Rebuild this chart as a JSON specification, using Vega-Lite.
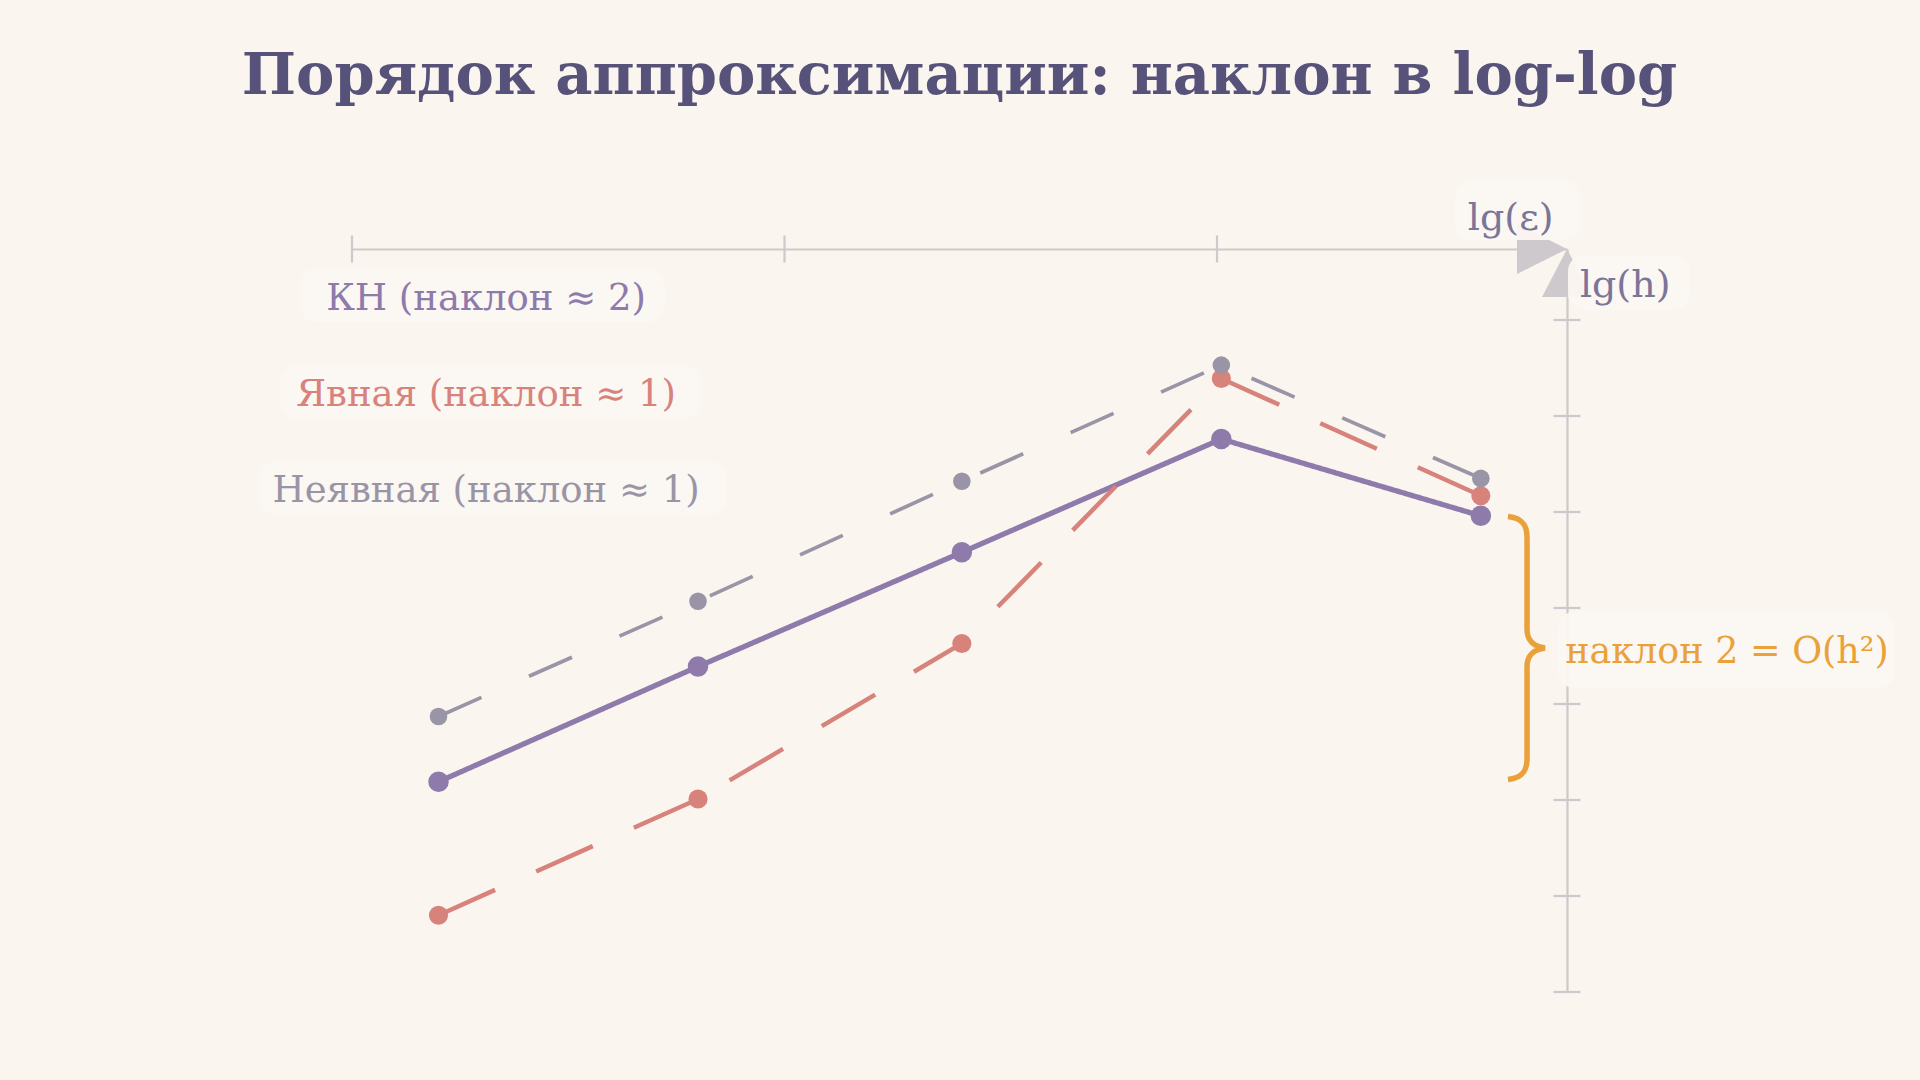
{
  "$schema": "https://vega.github.io/schema/vega-lite/v6.json",
  "description": "Порядок аппроксимации: наклон ошибок в двойном логарифмическом масштабе.",
  "width": 1215,
  "height": 743,
  "autosize": "none",
  "padding": {"left": 352, "top": 249, "right": 353, "bottom": 88},
  "background": "#faf5ee",
  "title": {
    "text": "Порядок аппроксимации: наклон в log-log",
    "font": "DejaVu Serif",
    "fontSize": 57.5,
    "fontWeight": "bold",
    "color": "#57527a",
    "anchor": "middle",
    "offset": 74
  },
  "datasets": {
    "series": [
      {"series": "КН", "x": -2.8, "y": -5.81},
      {"series": "КН", "x": -2.2, "y": -4.61},
      {"series": "КН", "x": -1.59, "y": -3.42},
      {"series": "КН", "x": -0.99, "y": -2.24},
      {"series": "КН", "x": -0.39, "y": -3.04},
      {"series": "Явная", "x": -2.8, "y": -7.2},
      {"series": "Явная", "x": -2.2, "y": -5.99},
      {"series": "Явная", "x": -1.59, "y": -4.37},
      {"series": "Явная", "x": -0.99, "y": -1.61},
      {"series": "Явная", "x": -0.39, "y": -2.83},
      {"series": "Неявная", "x": -2.8, "y": -5.13},
      {"series": "Неявная", "x": -2.2, "y": -3.93},
      {"series": "Неявная", "x": -1.59, "y": -2.68},
      {"series": "Неявная", "x": -0.99, "y": -1.47},
      {"series": "Неявная", "x": -0.39, "y": -2.65}
    ],
    "legend": [
      {"series": "КН", "label": "КН (наклон ≈ 2)", "x": -2.69, "y": -0.9},
      {"series": "Явная", "label": "Явная (наклон ≈ 1)", "x": -2.69, "y": -1.9},
      {"series": "Неявная", "label": "Неявная (наклон ≈ 1)", "x": -2.69, "y": -2.9}
    ],
    "axislabels": [
      {"series": "Оси", "label": "lg(ε)", "x": -0.42, "y": -0.0625},
      {"series": "Оси", "label": "lg(h)", "x": -0.161, "y": -0.76}
    ],
    "note": [
      {"series": "Наклон", "label": "наклон 2 = O(h²)", "x": -0.195, "y": -4.573}
    ],
    "xticks": [{"x": -3}, {"x": -2}, {"x": -1}],
    "yticks": [
      {"y": -8}, {"y": -7}, {"y": -6}, {"y": -5},
      {"y": -4}, {"y": -3}, {"y": -2}, {"y": -1}
    ],
    "halos": [
      {"x": -0.4497, "x2": -0.1607, "y": 0.4583, "y2": -0.1667},
      {"x": -0.1884, "x2": 0.0937, "y": -0.323, "y2": -0.896},
      {"x": -0.2116, "x2": 0.5676, "y": -4.0417, "y2": -4.8333},
      {"x": -3.1202, "x2": -2.2763, "y": -0.4583, "y2": -1.0208},
      {"x": -3.1665, "x2": -2.1954, "y": -1.4688, "y2": -2.0313},
      {"x": -3.2127, "x2": -2.1329, "y": -2.4688, "y2": -3.0313}
    ]
  },
  "layer": [
    {
      "data": {"name": "series"},
      "mark": {"type": "line", "strokeCap": "butt"},
      "encoding": {
        "x": {
          "field": "x",
          "type": "quantitative",
          "scale": {"domain": [-3, -0.1908], "nice": false, "zero": false},
          "axis": {
            "orient": "top",
            "title": null,
            "labels": false,
            "ticks": false,
            "grid": false,
            "domainColor": "#cdc9cc",
            "domainWidth": 2.2
          }
        },
        "y": {
          "field": "y",
          "type": "quantitative",
          "scale": {"domain": [-8, -0.2604], "nice": false, "zero": false},
          "axis": {
            "orient": "right",
            "title": null,
            "labels": false,
            "ticks": false,
            "grid": false,
            "domainColor": "#cdc9cc",
            "domainWidth": 2.2
          }
        },
        "color": {
          "field": "series",
          "type": "nominal",
          "legend": null,
          "scale": {
            "domain": ["КН", "Явная", "Неявная", "Оси", "Наклон"],
            "range": ["#8e7aab", "#d8827c", "#9995a6", "#7b7599", "#eaa13a"]
          }
        },
        "strokeDash": {
          "field": "series",
          "type": "nominal",
          "legend": null,
          "scale": {
            "domain": ["КН", "Явная", "Неявная"],
            "range": [[1, 0], [62, 45], [47, 52]]
          }
        },
        "strokeWidth": {
          "field": "series",
          "type": "nominal",
          "legend": null,
          "scale": {"domain": ["КН", "Явная", "Неявная"], "range": [5.3, 3.7, 3.7]}
        }
      }
    },
    {
      "data": {"name": "series"},
      "mark": {"type": "circle", "opacity": 1},
      "encoding": {
        "x": {"field": "x", "type": "quantitative"},
        "y": {"field": "y", "type": "quantitative"},
        "color": {"field": "series", "type": "nominal", "legend": null},
        "size": {
          "field": "series",
          "type": "nominal",
          "legend": null,
          "scale": {"domain": ["КН", "Явная", "Неявная"], "range": [420, 310, 310]}
        }
      }
    },
    {
      "data": {"name": "xticks"},
      "mark": {"type": "tick", "orient": "vertical", "size": 27, "thickness": 2.2, "color": "#cdc9cc", "opacity": 1},
      "encoding": {
        "x": {"field": "x", "type": "quantitative"},
        "y": {"datum": -0.2604, "type": "quantitative"}
      }
    },
    {
      "data": {"name": "yticks"},
      "mark": {"type": "tick", "orient": "horizontal", "size": 27, "thickness": 2.2, "color": "#cdc9cc", "opacity": 1},
      "encoding": {
        "x": {"datum": -0.1908, "type": "quantitative"},
        "y": {"field": "y", "type": "quantitative"}
      }
    },
    {
      "data": {"values": [{}]},
      "mark": {
        "type": "point",
        "shape": "M0,0L-1,-0.5L-1,0.5ZM0,0L-0.5,0.96L0.5,0.96Z",
        "size": 10000,
        "filled": true,
        "color": "#cdc9cc",
        "strokeWidth": 0,
        "opacity": 1
      },
      "encoding": {
        "x": {"datum": -0.1908, "type": "quantitative"},
        "y": {"datum": -0.2604, "type": "quantitative"}
      }
    },
    {
      "data": {"name": "halos"},
      "mark": {"type": "rect", "fill": "#fbf7f1", "opacity": 0.95, "cornerRadius": 16},
      "encoding": {
        "x": {"field": "x", "type": "quantitative"},
        "x2": {"field": "x2"},
        "y": {"field": "y", "type": "quantitative"},
        "y2": {"field": "y2"}
      }
    },
    {
      "data": {"name": "legend"},
      "mark": {"type": "text", "font": "DejaVu Serif", "fontSize": 37, "align": "center", "baseline": "alphabetic"},
      "encoding": {
        "x": {"field": "x", "type": "quantitative"},
        "y": {"field": "y", "type": "quantitative"},
        "text": {"field": "label"},
        "color": {"field": "series", "type": "nominal", "legend": null}
      }
    },
    {
      "data": {"name": "axislabels"},
      "mark": {"type": "text", "font": "DejaVu Serif", "fontSize": 38, "align": "left", "baseline": "alphabetic"},
      "encoding": {
        "x": {"field": "x", "type": "quantitative"},
        "y": {"field": "y", "type": "quantitative"},
        "text": {"field": "label"},
        "color": {"field": "series", "type": "nominal", "legend": null}
      }
    },
    {
      "data": {"name": "note"},
      "mark": {"type": "text", "font": "DejaVu Serif", "fontSize": 36.5, "align": "left", "baseline": "alphabetic"},
      "encoding": {
        "x": {"field": "x", "type": "quantitative"},
        "y": {"field": "y", "type": "quantitative"},
        "text": {"field": "label"},
        "color": {"field": "series", "type": "nominal", "legend": null}
      }
    },
    {
      "data": {"values": [{}]},
      "mark": {
        "type": "point",
        "shape": "M-0.145,-1C-0.04,-0.99,0,-0.94,0,-0.84L0,-0.14C0,-0.06,0.05,-0.01,0.137,0C0.05,0.01,0,0.06,0,0.14L0,0.84C0,0.94,-0.04,0.99,-0.145,1",
        "size": 69169,
        "filled": false,
        "color": "#eaa13a",
        "strokeWidth": 5.5,
        "opacity": 1
      },
      "encoding": {
        "x": {"datum": -0.2832, "type": "quantitative"},
        "y": {"datum": -4.4167, "type": "quantitative"}
      }
    }
  ],
  "config": {
    "view": {"stroke": null}
  }
}
